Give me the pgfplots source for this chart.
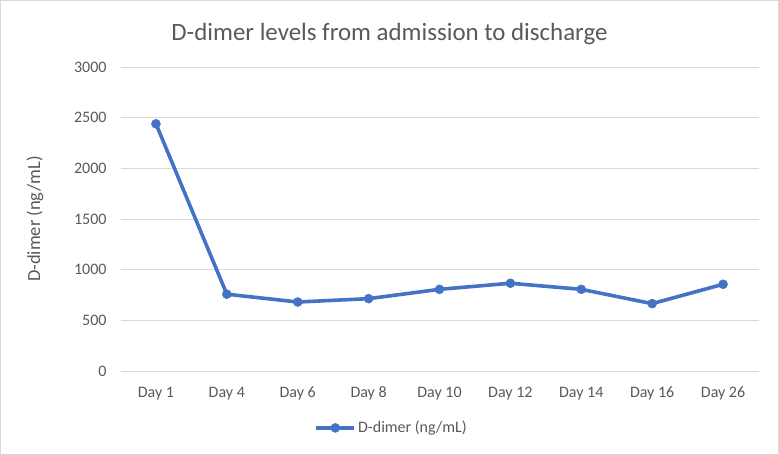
\documentclass[border=0pt]{standalone}
\usepackage{fontspec}
\setmainfont{Carlito}
\usepackage{pgfplots}
\pgfplotsset{compat=1.18}
\definecolor{excelBlue}{HTML}{4472C4}
\definecolor{txtGray}{HTML}{595959}
\definecolor{gridGray}{HTML}{D9D9D9}

\begin{document}
\begin{tikzpicture}[x=1bp,y=1bp]
% chart frame
\draw[gridGray, line width=1bp] (0.5,0.5) rectangle (778.5,454.5);
\node[txtGray, font=\fontsize{24.9bp}{28bp}\selectfont] at (389.5,421) {D-dimer levels from admission to discharge};
\begin{axis}[
  at={(120.5bp,83.7bp)}, anchor=south west,
  scale only axis, width=638bp, height=304.3bp,
  xmin=-0.5, xmax=8.5, ymin=0, ymax=3000,
  xtick={0,...,8},
  xticklabels={Day 1,Day 4,Day 6,Day 8,Day 10,Day 12,Day 14,Day 16,Day 26},
  ytick={0,500,...,3000},
  axis x line*=bottom, axis y line*=left,
  x axis line style={-, draw=gridGray, line width=0.9bp},
  y axis line style={draw=none},
  tick style={draw=none},
  ymajorgrids, grid style={gridGray, line width=0.9bp},
  tick label style={txtGray, font=\fontsize{16bp}{18bp}\selectfont},
  /pgf/number format/assume math mode=true,
  /pgf/number format/set thousands separator={},
  yticklabel style={xshift=-10.5bp},
  xticklabel style={yshift=-12bp},
  ylabel={D-dimer (ng/mL)},
  every axis y label/.style={at={(axis description cs:-0.134,0.5)}, rotate=90, anchor=center,
    txtGray, font=\fontsize{18.5bp}{20bp}\selectfont},
  legend style={at={(axis description cs:0.425,-0.186)}, anchor=center, draw=none,
    font=\fontsize{16bp}{18bp}\selectfont, text=txtGray},
  legend image code/.code={
    \draw[mark repeat=2, mark phase=2] plot coordinates {(0bp,0bp) (19bp,0bp) (38bp,0bp)};
  },
]
\addplot[excelBlue, line width=3.6bp, mark=*, mark size=4.5bp,
  mark options={fill=excelBlue, draw=excelBlue, line width=0.5bp}] coordinates {
  (0,2440) (1,760) (2,683) (3,716) (4,808) (5,868) (6,808) (7,667) (8,858)
};
\legend{D-dimer (ng/mL)}
\end{axis}
\end{tikzpicture}
\end{document}
